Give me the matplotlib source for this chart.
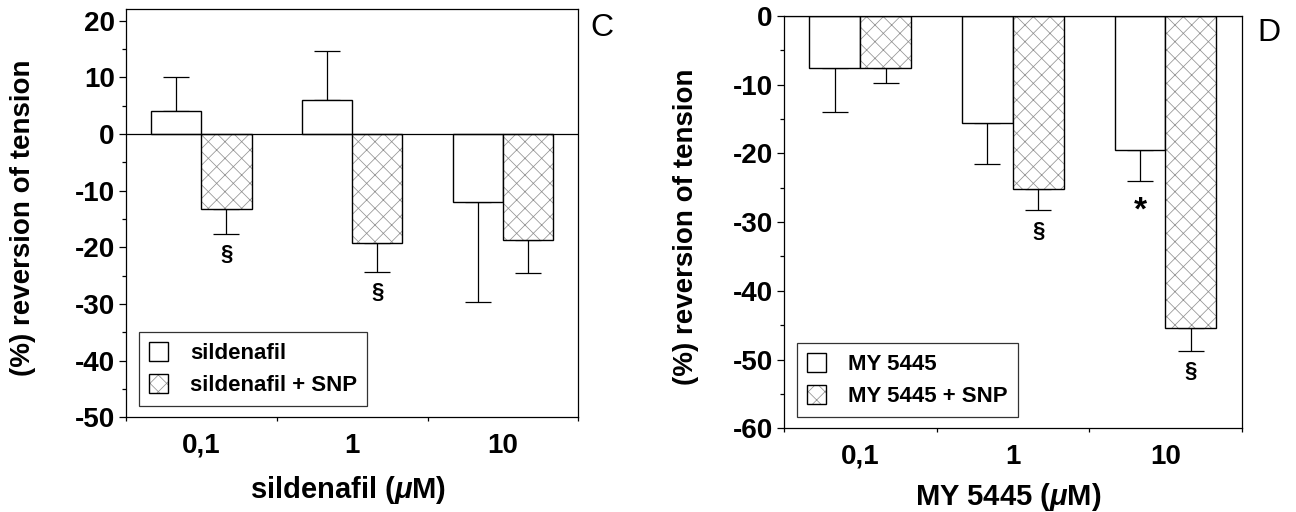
import numpy as np
import matplotlib
matplotlib.use('Agg')
import matplotlib.pyplot as plt
from matplotlib.patches import Patch
from matplotlib.ticker import MultipleLocator, FixedLocator

# fonts: Arial-like bold everywhere, italic mu in axis titles
plt.rcParams['font.family'] = ['Liberation Sans', 'DejaVu Sans']
plt.rcParams['font.weight'] = 'bold'
plt.rcParams['mathtext.fontset'] = 'custom'
plt.rcParams['mathtext.it'] = 'Liberation Sans:italic:bold'
plt.rcParams['mathtext.rm'] = 'Liberation Sans:bold'
plt.rcParams['axes.unicode_minus'] = False
plt.rcParams['hatch.linewidth'] = 0.55

HATCH_COL = '#939393'

# data
conc = ['0,1', '1', '10']

sil = [4.0, 6.0, -12.0]            # sildenafil
sil_err = [6.0, 8.6, 17.6]
sil_snp = [-13.3, -19.2, -18.7]    # sildenafil + SNP
sil_snp_err = [4.3, 5.1, 5.9]
sil_marks = [(1, 0, '§'), (1, 1, '§')]     # (series, index, symbol)

my = [-7.5, -15.6, -19.5]          # MY 5445
my_err = [6.5, 5.9, 4.5]
my_snp = [-7.5, -25.2, -45.4]      # MY 5445 + SNP
my_snp_err = [2.2, 3.1, 3.3]
my_marks = [(1, 1, '§'), (0, 2, '*'), (1, 2, '§')]


def one_sided(m, e):
    # error bar only away from zero
    lo = [ei if mi < 0 else 0 for mi, ei in zip(m, e)]
    hi = [ei if mi >= 0 else 0 for mi, ei in zip(m, e)]
    return [lo, hi]


def panel(ax, m1, e1, m2, e2, names, marks, ylim, xlabel, letter, lpos, xlpos):
    x = np.arange(len(conc))
    w = 1 / 3
    xs = [x - w / 2, x + w / 2]
    ax.bar(xs[0], m1, w, color='white', edgecolor='black', lw=1.0, zorder=2)
    # hatch drawn in grey, outline drawn on top in black
    ax.bar(xs[1], m2, w, color='white', edgecolor=HATCH_COL, lw=0, hatch='xx', zorder=2)
    ax.bar(xs[1], m2, w, fill=False, edgecolor='black', lw=1.0, zorder=2)
    for xx, m, e in zip(xs, [m1, m2], [e1, e2]):
        ax.errorbar(xx, m, yerr=one_sided(m, e), fmt='none', ecolor='black',
                    elinewidth=0.9, capsize=9.3, capthick=0.9, zorder=1)
    ms = [m1, m2]
    es = [e1, e2]
    for s, i, sym in marks:
        y = ms[s][i] - es[s][i]
        fs = 24 if sym == '*' else 16
        off = -22 if sym == '*' else -15
        ax.annotate(sym, (xs[s][i], y), xytext=(0, off), textcoords='offset points',
                    ha='center', va='center', fontsize=fs, fontweight='bold')
    ax.axhline(0, color='black', lw=0.9, zorder=3)

    ax.set_xlim(-0.5, 2.5)
    ax.set_ylim(*ylim)
    ax.set_xticks(x)
    ax.set_xticklabels(conc)
    ax.xaxis.set_minor_locator(FixedLocator([-0.5, 0.5, 1.5, 2.5]))
    ax.yaxis.set_major_locator(MultipleLocator(10))
    ax.yaxis.set_minor_locator(MultipleLocator(5))
    ax.tick_params(axis='x', which='major', length=0, pad=11, labelsize=20)
    ax.tick_params(axis='x', which='minor', length=3, width=0.9)
    ax.tick_params(axis='y', which='major', length=5, width=0.9, pad=3, labelsize=20)
    ax.tick_params(axis='y', which='minor', length=3, width=0.9)
    for sp in ax.spines.values():
        sp.set_linewidth(0.9)

    ax.set_ylabel('(%) reversion of tension', fontsize=20, fontweight='bold')
    ax.yaxis.set_label_coords(lpos, 0.49)
    ax.set_xlabel(xlabel, fontsize=21, fontweight='bold')
    ax.xaxis.set_label_coords(0.49, xlpos)

    h_plain = Patch(facecolor='white', edgecolor='black', lw=1.0)
    h_hatch = (Patch(facecolor='white', edgecolor=HATCH_COL, lw=0, hatch='xx'),
               Patch(fill=False, edgecolor='black', lw=1.0))
    leg = ax.legend([h_plain, h_hatch], names, loc='lower left',
                    bbox_to_anchor=(0.029, 0.027), borderaxespad=0,
                    fontsize=16, frameon=True, fancybox=False, handlelength=0.85,
                    handleheight=0.9, handletextpad=1.0, labelspacing=0.45,
                    borderpad=0.45)
    leg.get_frame().set_edgecolor('black')
    leg.get_frame().set_linewidth(0.9)
    ax.text(letter[1], letter[2], letter[0], transform=ax.figure.transFigure,
            fontsize=23, fontweight='normal', ha='center', va='center')


fig = plt.figure(figsize=(12.96, 5.12), dpi=100)
axC = fig.add_axes([0.0972, 0.1850, 0.3490, 0.7968])
axD = fig.add_axes([0.6049, 0.1635, 0.3532, 0.8053])

panel(axC, sil, sil_err, sil_snp, sil_snp_err, ['sildenafil', 'sildenafil + SNP'],
      sil_marks, (-50, 22), r'sildenafil ($\mu$M)', ('C', 0.4645, 0.945), -0.20, -0.14)
panel(axD, my, my_err, my_snp, my_snp_err, ['MY 5445', 'MY 5445 + SNP'],
      my_marks, (-60, 0), r'MY 5445 ($\mu$M)', ('D', 0.979, 0.9355), -0.186, -0.127)

fig.savefig('out.png', dpi=100)
